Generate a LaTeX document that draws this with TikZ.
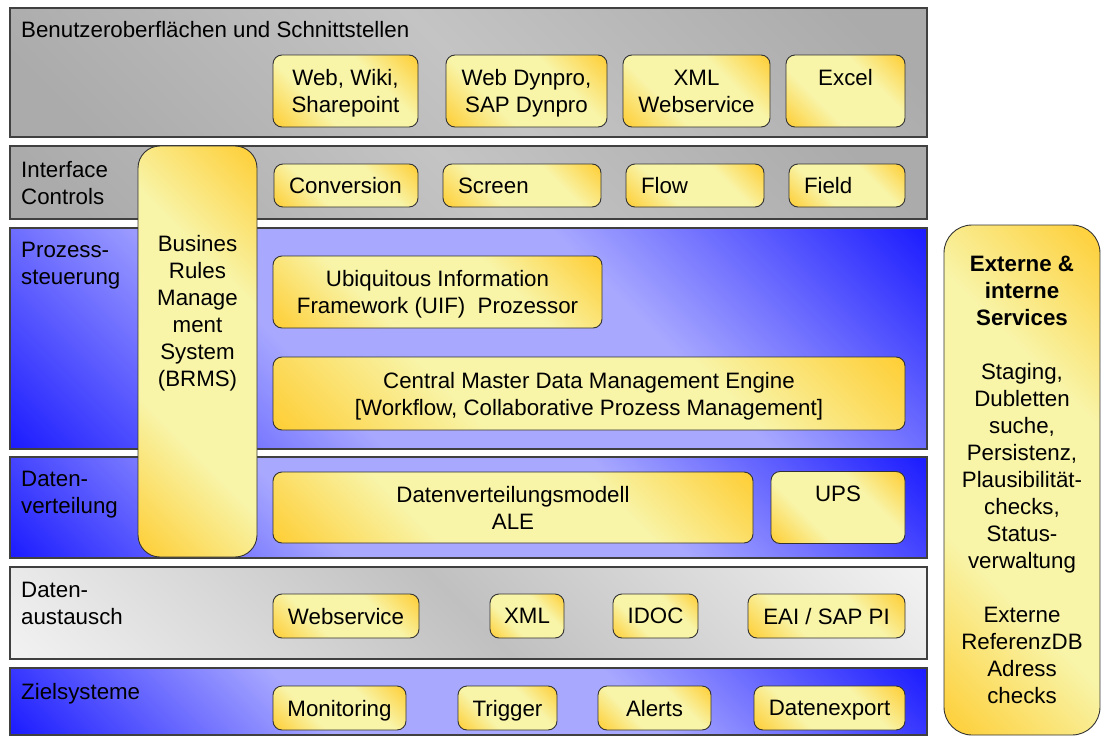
\documentclass[tikz,border=0pt]{standalone}
\usepackage{fontspec}
\setmainfont{Liberation Sans}
\usepackage{tikz}

\definecolor{gold}{HTML}{FFC926}
\definecolor{paleyellow}{HTML}{F8F4A8}
\definecolor{deepblue}{HTML}{0000FF}
\definecolor{lavender}{HTML}{A8A8FF}
\definecolor{bandgray}{HTML}{ABABAB}
\definecolor{bandgraylight}{HTML}{C4C4C4}
\definecolor{bandwhite}{HTML}{F2F2F2}
\definecolor{bandgraymid}{HTML}{C0C0C0}

\pgfdeclareverticalshading{goldshade}{100bp}{color(0bp)=(gold); color(12bp)=(gold); color(36bp)=(paleyellow); color(64bp)=(paleyellow); color(88bp)=(gold); color(100bp)=(gold)}
\pgfdeclareverticalshading{blueshade}{100bp}{color(0bp)=(deepblue); color(10bp)=(deepblue); color(38bp)=(lavender); color(62bp)=(lavender); color(90bp)=(deepblue); color(100bp)=(deepblue)}
\pgfdeclareverticalshading{grayshade}{100bp}{color(0bp)=(bandgray); color(20bp)=(bandgray); color(50bp)=(bandgraylight); color(80bp)=(bandgray); color(100bp)=(bandgray)}
\pgfdeclareverticalshading{lightshade}{100bp}{color(0bp)=(bandwhite); color(15bp)=(bandwhite); color(50bp)=(bandgraymid); color(85bp)=(bandwhite); color(100bp)=(bandwhite)}

\begin{document}
\begin{tikzpicture}[x=1pt,y=-1pt,
    every node/.style={inner sep=0pt, font=\fontsize{22.3}{27}\selectfont},
    band/.style={draw=black!75, line width=1.2pt, minimum width=917},
    grayband/.style={band, shading=grayshade, shading angle=-45},
    blueband/.style={band, shading=blueshade, shading angle=-45},
    lightband/.style={band, shading=lightshade, shading angle=-45},
    lbl/.style={anchor=north west, align=left},
    gbox/.style={draw=black!80, line width=0.9pt, rounded corners=9pt, shading=goldshade, shading angle=-45, align=center, text depth=0pt},
    lgbox/.style={gbox, align=left, inner xsep=15pt, minimum height=43}]
\useasboundingbox (0,0) rectangle (1101,736);

% layers
\node[grayband, minimum height=129] (gui) at (468.5,72.5) {};
\node[grayband, minimum height=73] (ictl) at (468.5,182.5) {};
\node[blueband, minimum height=221] (proz) at (468.5,338.5) {};
\node[blueband, minimum height=101] (dvert) at (468.5,507.5) {};
\node[lightband, minimum height=92] (dtausch) at (468.5,613) {};
\node[blueband, minimum height=67] (ziel) at (468.5,701.5) {};

\node[lbl] (guiL) at (21,21.5) {Benutzeroberflächen und Schnittstellen};
\node[lbl] (ictlL) at (21,161.5) {Interface\\Controls};
\node[lbl] (prozL) at (21,241.5) {Prozess-\\steuerung};
\node[lbl] (dvertL) at (21,470.5) {Daten-\\verteilung};
\node[lbl] (dtauschL) at (21,581.5) {Daten-\\austausch};
\node[lbl] (zielL) at (21,683) {Zielsysteme};

% BRMS pillar
\node[gbox, rounded corners=22pt, minimum width=119, minimum height=411] (brms) at (197.5,351.5)
  {Busines\\Rules\\Manage\\ment\\System\\(BRMS)\\[54pt]\mbox{}};

% Benutzeroberflaechen
\node[gbox, minimum width=145, minimum height=72] (web) at (345.5,91) {Web, Wiki,\\Sharepoint};
\node[gbox, minimum width=161, minimum height=72] (dynpro) at (526.5,91) {Web Dynpro,\\SAP Dynpro};
\node[gbox, minimum width=147, minimum height=72] (xmlws) at (696.5,91) {XML\\Webservice};
\node[gbox, minimum width=119, minimum height=72] (excel) at (845.5,91) {Excel\\\mbox{}};

% Interface Controls
\node[lgbox, text width=114] (conv) at (346,185.5) {Conversion};
\node[lgbox, text width=128] (screen) at (522,185.5) {Screen};
\node[lgbox, text width=108] (flow) at (695,185.5) {Flow};
\node[lgbox, text width=86] (field) at (847,185.5) {Field};

% Prozesssteuerung
\node[gbox, minimum width=329, minimum height=72] (uif) at (437.5,292)
  {Ubiquitous Information\\Framework (UIF)~~Prozessor};
\node[gbox, minimum width=632, minimum height=73] (cmdm) at (589,393.5)
  {Central Master Data Management Engine\\{[}Workflow, Collaborative Prozess Management{]}};

% Datenverteilung
\node[gbox, minimum width=480, minimum height=71] (dvm) at (513,507.5) {Datenverteilungsmodell\\ALE};
\node[gbox, minimum width=134, minimum height=72] (ups) at (838,507.5) {UPS\\\mbox{}};

% Datenaustausch
\node[gbox, minimum width=146, minimum height=44] (ws) at (346,616) {Webservice};
\node[gbox, minimum width=74, minimum height=44] (xml) at (527,616) {XML};
\node[gbox, minimum width=85, minimum height=44] (idoc) at (655.5,616) {IDOC};
\node[gbox, minimum width=157, minimum height=44] (eai) at (826.5,616) {EAI / SAP PI};

% Zielsysteme
\node[gbox, minimum width=133, minimum height=44] (mon) at (339.5,708) {Monitoring};
\node[gbox, minimum width=99, minimum height=44] (trig) at (507.5,708) {Trigger};
\node[gbox, minimum width=113, minimum height=44] (alert) at (654.5,708) {Alerts};
\node[gbox, minimum width=151, minimum height=44] (dexp) at (829.5,708) {Datenexport};

% Services
\node[gbox, rounded corners=28pt, minimum width=156, minimum height=510] (svc) at (1022,480)
  {\textbf{Externe \&}\\\textbf{interne}\\\textbf{Services}\\[27pt]Staging,\\Dubletten\\suche,\\Persistenz,\\Plausibilität-\\checks,\\Status-\\verwaltung\\[27pt]Externe\\ReferenzDB\\Adress\\checks};
\end{tikzpicture}
\end{document}
